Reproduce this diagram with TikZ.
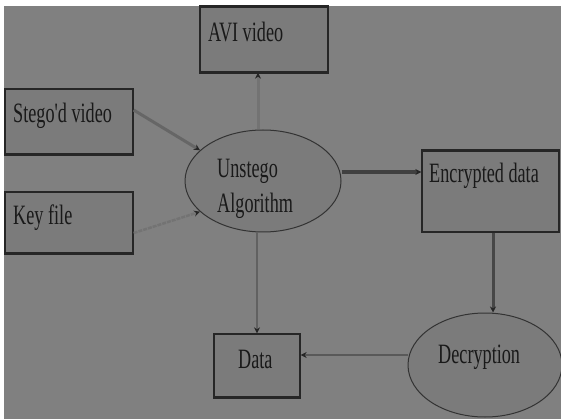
\documentclass[tikz,border=0pt]{standalone}
\usepackage{fontspec}
\setmainfont{Liberation Serif}
\newfontfamily\condfont[FakeStretch=0.65]{Liberation Serif}
\usetikzlibrary{arrows.meta,shapes.geometric}
\definecolor{bggray}{HTML}{808080}
\definecolor{boxgray}{HTML}{7B7B7B}
\tikzset{
  boxnode/.style={draw=black!85,line width=1.3pt,fill=boxgray,minimum width=#1,inner sep=0pt},
  ellnode/.style={ellipse,draw=black!80,line width=1pt,fill=boxgray,inner sep=0pt},
  lbl/.style={anchor=base west,inner sep=0pt,text=black!90,font=\condfont\fontsize{28}{34}\selectfont},
  conn/.style={line width=#1,-{Stealth[length=6pt,width=6pt,color=black!85]}},
  shadowline/.style={line width=3.5pt,black!85}
}
\begin{document}
\begin{tikzpicture}[x=1pt,y=-1pt]
\useasboundingbox (0,0) rectangle (561,419);
\fill[white] (0,0) rectangle (561,419);
\fill[bggray] (4,6) rectangle (561,419);
% boxes
\node[boxnode=128pt,minimum height=65pt] (avi) at (264,39.5) {};
\node[boxnode=128pt,minimum height=65pt] (stego) at (69,121.5) {};
\node[boxnode=128pt,minimum height=61pt] (key) at (69,222.5) {};
\node[boxnode=137pt,minimum height=81pt] (enc) at (490.5,191.5) {};
\node[boxnode=86pt,minimum height=63pt] (data) at (257,365.5) {};
% thicker bottom edges
\draw[shadowline] (avi.south west) -- (avi.south east);
\draw[shadowline] (stego.south west) -- (stego.south east);
\draw[shadowline] (key.south west) -- (key.south east);
\draw[shadowline] (data.south west) -- (data.south east);
\draw[line width=2pt,black!85] (avi.north west) -- (avi.north east);
\draw[line width=2pt,black!85] (enc.north west) -- (enc.north east);
% ellipses
\node[ellnode,minimum width=156pt,minimum height=102pt] (uns) at (263,181) {};
\node[ellnode,minimum width=154pt,minimum height=104pt] (dec) at (485,365) {};
% labels
\node[lbl] (tavi) at (208,42) {AVI video};
\node[lbl] (tstego) at (13,123) {Stego'd video};
\node[lbl] (tkey) at (13,225) {Key file};
\node[lbl] (tenc) at (429,183) {Encrypted data};
\node[lbl] (tuns1) at (217,178) {Unstego};
\node[lbl] (tuns2) at (217,213) {Algorithm};
\node[lbl] (tdec) at (438,363) {Decryption};
\node[lbl] (tdata) at (238,368) {Data};
% connectors
\draw[conn=3pt,black!55] (uns.north -| avi.south) ++(-6,0) coordinate (a1) (a1) -- (a1 |- avi.south);
\draw[conn=3pt,black!60] ([yshift=11.5pt]stego.east) -- (uns.154);
\draw[conn=2.5pt,black!55,dash pattern=on 4pt off 1pt] ([yshift=-10.5pt]key.east) -- (uns.206);
\draw[conn=4pt,black!75] ([yshift=9pt]uns.east) coordinate (u1) -- (u1 -| enc.west);
\draw[conn=3pt,black!72] ([xshift=2.5pt]enc.south) coordinate (e1) -- (e1 |- dec.north);
\draw[conn=2pt,black!65] ([yshift=10pt]dec.west) coordinate (d1) -- (d1 -| data.east);
\draw[conn=2.5pt,black!62] (uns.south -| data.north) -- (data.north);
\end{tikzpicture}
\end{document}
